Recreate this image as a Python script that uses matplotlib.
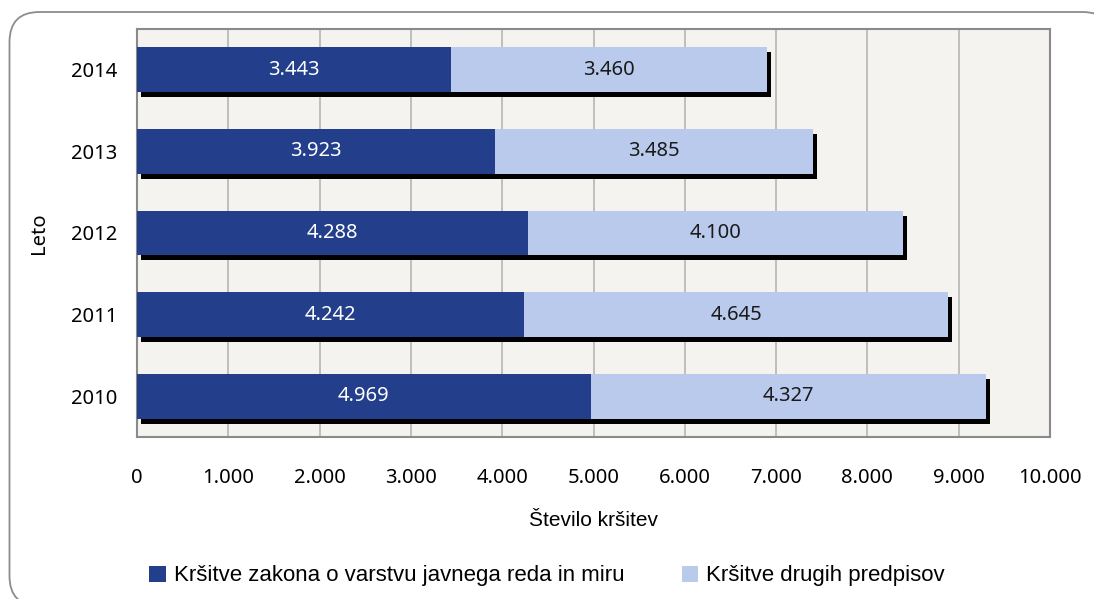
import matplotlib.pyplot as plt
import matplotlib.transforms as mtransforms
from matplotlib.patches import FancyBboxPatch
import numpy as np

# podatki (od 2010 do 2014)
leta = ['2010', '2011', '2012', '2013', '2014']
zakon = [4969, 4242, 4288, 3923, 3443]
drugi = [4327, 4645, 4100, 3485, 3460]
xticks = [0, 1000, 2000, 3000, 4000, 5000, 6000, 7000, 8000, 9000, 10000]

dark = '#233F8C'
light = '#BACAEC'

def fmt(v):
    return f'{v:,}'.replace(',', '.')

fig = plt.figure(figsize=(10.94, 5.99), dpi=100)
# okvir z zaobljenimi robovi (v palcih)
frame = FancyBboxPatch((0.095, -0.07), 11.03, 5.99 - 0.12 + 0.07, boxstyle='round,pad=0,rounding_size=0.3',
                       transform=fig.dpi_scale_trans, fc='white', ec='#8c8c8c', lw=1.3, zorder=-5)
fig.patches.append(frame)

ax = fig.add_axes([137/1094, 1-437/599, 913/1094, 408/599])
ax.set_facecolor('#F4F3EF')

y = np.arange(len(leta))
skupaj = np.array(zakon) + np.array(drugi)

# senca
shadow = ax.transData + mtransforms.ScaledTranslation(4/100, -5/100, fig.dpi_scale_trans)
ax.barh(y, skupaj, height=0.55, color='black', transform=shadow, zorder=2)

b1 = ax.barh(y, zakon, height=0.55, color=dark, zorder=3,
             label='Kršitve zakona o varstvu javnega reda in miru')
b2 = ax.barh(y, drugi, left=zakon, height=0.55, color=light, zorder=3,
             label='Kršitve drugih predpisov')

for i in range(len(leta)):
    ax.text(zakon[i]/2, y[i], fmt(zakon[i]), color='white', ha='center', va='center',
            fontsize=14.5, family='Noto Sans', zorder=4)
    ax.text(zakon[i] + drugi[i]/2, y[i], fmt(drugi[i]), color='#1a1a1a', ha='center', va='center',
            fontsize=14.5, family='Noto Sans', zorder=4)

ax.set_xlim(0, 10000)
ax.set_ylim(-0.5, 4.5)
ax.set_xticks(xticks)
ax.set_xticklabels([fmt(t) for t in xticks], family='Noto Sans', fontsize=14.5)
ax.set_yticks(y)
ax.set_yticklabels(leta, family='Noto Sans', fontsize=14.5)
ax.tick_params(length=0, pad=14)
ax.tick_params(axis='x', pad=22)
ax.grid(axis='x', color='#b5b5b5', lw=1.2, zorder=1)
ax.set_axisbelow(True)
for s in ax.spines.values():
    s.set_color('#8a8a8a')
    s.set_linewidth(1.5)

ax.set_xlabel('Število kršitev', family='Liberation Sans', fontsize=15, labelpad=17)
ax.set_ylabel('Leto', family='Noto Sans', fontsize=14.5, labelpad=16)

fig.legend(handles=[b1, b2], loc='center', bbox_to_anchor=(0.5, 1-576/599), ncol=2, frameon=False,
           prop={'family': 'Liberation Sans', 'size': 16}, handlelength=0.75, handleheight=0.75,
           handletextpad=0.35, columnspacing=2.6)

fig.savefig('out.png', dpi=100)
